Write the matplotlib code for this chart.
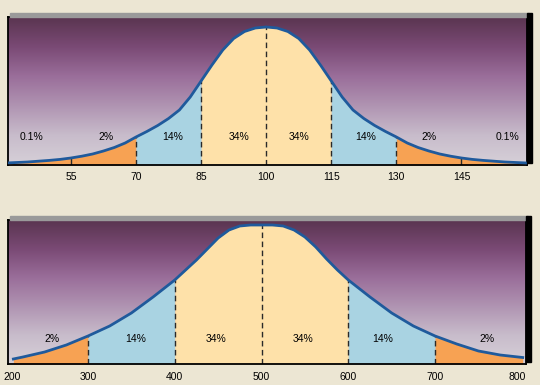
import matplotlib
matplotlib.use("agg")
import matplotlib.pyplot as plt
from matplotlib.colors import LinearSegmentedColormap
from matplotlib.patches import Rectangle
import numpy as np

plt.rcParams['font.family'] = ['Liberation Sans', 'DejaVu Sans']

# top panel: IQ-style scale, curve heights
top_x = [40, 42.5, 45, 47.5, 50, 52.5, 55, 57.5, 60, 62.5, 65, 67.5, 70, 72.5, 75, 77.5,
         80, 82.5, 85, 87.5, 90, 92.5, 95, 97.5, 100, 102.5, 105, 107.5, 110, 112.5,
         115, 117.5, 120, 122.5, 125, 127.5, 130, 132.5, 135, 137.5, 140, 142.5, 145,
         147.5, 150, 152.5, 155, 157.5, 160]
top_h = [2, 2.5, 3, 3.8, 4.6, 5.6, 7, 8.8, 11, 14, 17.5, 22, 28, 33.5, 39.5, 46.5,
         55, 68, 84, 100, 115, 126.5, 133.5, 137, 138, 137, 133.5, 126.5, 115, 100,
         84, 68, 55, 46.5, 39.5, 33.5, 28, 22, 17.5, 14, 11, 8.8, 7,
         5.6, 4.6, 3.8, 3, 2.5, 2]
top_bounds = [40, 70, 85, 115, 130, 160]
top_dashes = [70, 85, 100, 115, 130]
top_solid = [55, 145]
top_ticks = [55, 70, 85, 100, 115, 130, 145]
top_pct = ["0.1%", "2%", "14%", "34%", "34%", "14%", "2%", "0.1%"]
top_pct_x = [46, 63, 78.5, 93.7, 107.5, 123, 137.6, 155.7]

# bottom panel: 200-800 scale
bot_x = [214, 225, 250, 275, 300, 325, 350, 375, 400, 412.5, 425, 437.5, 450, 462.5,
         475, 487.5, 500, 512.5, 525, 537.5, 550, 562.5, 575, 587.5, 600, 625, 650,
         675, 700, 725, 750, 775, 801]
bot_h = [5, 7, 12, 19, 28, 38, 51, 67, 84, 94, 104, 115, 126, 134,
         138, 139, 139, 139, 138, 134, 127, 117, 105, 94, 84, 67, 51,
         38, 28, 20, 13, 9, 6.5]
bot_bounds = [214, 300, 400, 600, 700, 801]
bot_dashes = [300, 400, 500, 600, 700]
bot_tick_labels = ["200", "300", "400", "500", "600", "700", "800"]
bot_pct = ["2%", "14%", "34%", "34%", "14%", "2%"]
bot_pct_x = [259, 355, 448, 548, 640, 760]

band_colors = ["#f7a253", "#a9d3e2", "#fee1a9", "#a9d3e2", "#f7a253"]
curve_col = "#1f5a9c"
bg = LinearSegmentedColormap.from_list(
    "bg", ["#5a3550", "#7a4a75", "#9a6e9a", "#b094b2", "#c8bccb", "#d6d0d8"])

fig = plt.figure(figsize=(5.4, 3.85), dpi=100)
fig.patch.set_facecolor("#ece6d3")

W, H = 540.0, 385.0


def panel(rect_px, xs, hs, xlim, ymax, bounds, dashes, pct, pct_x, pct_y):
    left, top, right, bottom = rect_px
    pos = [left / W, 1 - bottom / H, (right - left) / W, (bottom - top) / H]
    # shadow: gray along the top, black down the right side
    fig.patches.append(Rectangle((pos[0] + 2 / W, pos[1] + pos[3]), pos[2], 4 / H,
                                 transform=fig.transFigure, color="#9a9a9a", zorder=0))
    fig.patches.append(Rectangle((pos[0] + pos[2], pos[1] + 2 / H), 5 / W, pos[3] + 2 / H,
                                 transform=fig.transFigure, color="black", zorder=0))
    ax = fig.add_axes(pos)
    grad = np.linspace(0, 1, 256).reshape(-1, 1)
    ax.imshow(grad, cmap=bg, aspect="auto", extent=[xlim[0], xlim[1], 0, ymax],
              zorder=0, origin="upper")
    ax.set_xlim(*xlim)
    ax.set_ylim(0, ymax)
    xs_a = np.array(xs)
    hs_a = np.array(hs)
    for i in range(len(bounds) - 1):
        m = (xs_a >= bounds[i]) & (xs_a <= bounds[i + 1])
        ax.fill_between(xs_a[m], 0, hs_a[m], color=band_colors[i], lw=0, zorder=1)
    for d in dashes:
        hd = hs_a[xs_a == d][0]
        ax.vlines(d, 0, hd, colors="#2a2a2a", linestyles=(0, (4, 2.5)), lw=1.0, zorder=2)
    ax.plot(xs, hs, color=curve_col, lw=2.0, zorder=3, solid_joinstyle="round")
    for t, px in zip(pct, pct_x):
        ax.text(px, pct_y, t, ha="center", va="center", fontsize=7.5, color="black", zorder=4)
    for s in ax.spines.values():
        s.set_linewidth(1.3)
        s.set_color("black")
    ax.set_yticks([])
    ax.tick_params(axis="x", length=0, labelsize=7.5)
    return ax


ax1 = panel((8, 17, 527, 165), top_x, top_h, (40.5, 160.1), 148,
            top_bounds, top_dashes, top_pct, top_pct_x, 28.5)
top_h_a = np.array(top_h)
top_x_a = np.array(top_x)
for s in top_solid:
    ax1.vlines(s, 0, top_h_a[top_x_a == s][0], colors="#2a2a2a", lw=1.0, zorder=2)
ax1.set_xticks(top_ticks)
ax1.set_xticklabels([str(t) for t in top_ticks])
ax1.tick_params(axis="x", pad=5)

ax2 = panel((8, 220, 526, 364), bot_x, bot_h, (207.8, 804.8), 144,
            bot_bounds, bot_dashes, bot_pct, bot_pct_x, 25)
ax2.set_xticks([213, 300, 400, 500, 600, 700, 795])
ax2.set_xticklabels(bot_tick_labels)
ax2.tick_params(axis="x", pad=6)

fig.savefig("out.png", dpi=100, facecolor=fig.get_facecolor())
